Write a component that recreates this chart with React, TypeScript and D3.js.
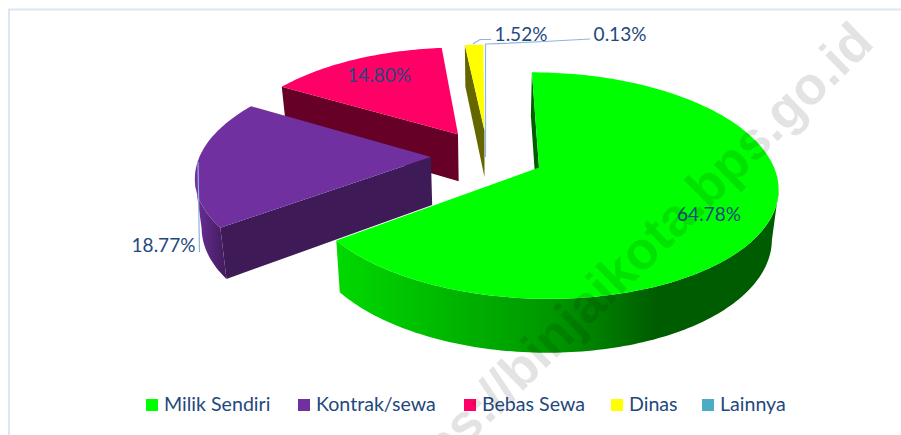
import React from "react";
import * as d3 from "d3";

const categories = ["Milik Sendiri", "Kontrak/sewa", "Bebas Sewa", "Dinas", "Lainnya"];
const values = [64.78, 18.77, 14.8, 1.52, 0.13];
const topColors = ["#00ff00", "#7030a0", "#ff0066", "#ffff00", "#4bacc6"];
const cutColors = ["#005c00", "#3e1a57", "#660026", "#666600", "#1e4450"];
const rimColors = [
  ["#00d800", "#009400", "#005c00", "#005c00"],
  ["#3e1a57", "#6a2e98", "#6a2e98", "#6a2e98"],
  ["#660026", "#660026", "#660026", "#660026"],
  ["#666600", "#666600", "#666600", "#666600"],
  ["#1e4450", "#1e4450", "#1e4450", "#1e4450"],
];
const labelTexts = ["64.78%", "18.77%", "14.80%", "1.52%", "0.13%"];

// Layout
const width = 901;
const height = 435;
const textColor = "#1f497d";
const fontFamily = "Lato, 'Open Sans', sans-serif";
const centerX = 487.5;
const centerY = 155.6;
const radiusX = 231;
const radiusY = 106.6;
const perspective = 0.157;
const explode = 0.245;
const depth = 48;
const legendX = [146, 298, 464, 611, 702];
const labelPos = [
  [709, 221],
  [163.5, 252],
  [379, 82],
  [521, 41],
  [620, 41],
];

type Pt = [number, number];

// disk coordinates (u to the right, v to the back) to screen
const projectTop = (u: number, v: number): Pt => {
  const p = 1 / (1 + perspective * v);
  return [centerX + radiusX * u * p, centerY - radiusY * v * p];
};
const projectBottom = (u: number, v: number): Pt => {
  const [x, y] = projectTop(u, v);
  return [centerX + (x - centerX) * 0.977, y + depth * (1 - 0.11 * v)];
};

const line = d3.line<Pt>();

// The slices of the pie, clockwise from the top
const slices = d3
  .pie<number>()
  .sort(null)
  .startAngle(0)
  .endAngle(2 * Math.PI)(values);

function sliceShapes(i: number) {
  const s = slices[i];
  const mid = (s.startAngle + s.endAngle) / 2;
  const ou = explode * Math.sin(mid);
  const ov = explode * Math.cos(mid);
  const steps = Math.max(2, Math.ceil((s.endAngle - s.startAngle) / 0.02));
  const angles = d3.range(steps + 1).map((k) => s.startAngle + ((s.endAngle - s.startAngle) * k) / steps);
  const rim = angles.map((a) => [ou + Math.sin(a), ov + Math.cos(a)] as Pt);
  const rimTop = rim.map(([u, v]) => projectTop(u, v));
  const rimBottom = rim.map(([u, v]) => projectBottom(u, v));
  const apexTop = projectTop(ou, ov);
  const apexBottom = projectBottom(ou, ov);

  const top = line([apexTop, ...rimTop])! + "Z";

  // A wall shows when its top edge runs leftwards on screen
  const walls: string[] = [];
  if (rimTop[0][0] < apexTop[0]) {
    walls.push(line([apexTop, rimTop[0], rimBottom[0], apexBottom])! + "Z");
  }
  const last = rimTop.length - 1;
  if (apexTop[0] < rimTop[last][0]) {
    walls.push(line([rimTop[last], apexTop, apexBottom, rimBottom[last]])! + "Z");
  }
  const visible = d3.range(last).filter((k) => rimTop[k + 1][0] < rimTop[k][0]);
  let outer = "";
  if (visible.length) {
    const from = visible[0];
    const to = visible[visible.length - 1] + 1;
    const upper = rimTop.slice(from, to + 1);
    const lower = rimBottom.slice(from, to + 1).reverse();
    outer = line([...upper, ...lower])! + "Z";
  }
  return { top, walls, outer };
}

// Far slices first so the near ones cover them
const drawOrder = [3, 2, 1, 0];

export default function App() {
  return (
    <svg
      width={width}
      height={height}
      viewBox={`0 0 ${width} ${height}`}
      style={{ position: "absolute", left: 0, top: 0, display: "block", background: "#fff" }}
    >
      <defs>
        {topColors.map((c, i) => (
          <linearGradient
            key={c}
            id={`rim${i}`}
            gradientUnits="userSpaceOnUse"
            x1={i === 0 ? 340 : 196}
            x2={i === 0 ? 780 : 228}
            y1={0}
            y2={0}
          >
            {i === 0 ? (
              <>
                <stop offset="0" stopColor={rimColors[0][0]} />
                <stop offset="0.5" stopColor={rimColors[0][1]} />
                <stop offset="0.72" stopColor={rimColors[0][2]} />
                <stop offset="1" stopColor={rimColors[0][3]} />
              </>
            ) : (
              <>
                <stop offset="0" stopColor={rimColors[i][1]} />
                <stop offset="1" stopColor={rimColors[i][0]} />
              </>
            )}
          </linearGradient>
        ))}
      </defs>

      {/* Chart frame */}
      <path d={`M${width},9.5H9V${height}`} fill="none" stroke="#dce6f4" strokeWidth={2} />

      {/* Pie */}
      {drawOrder.map((i) => {
        const { top, walls, outer } = sliceShapes(i);
        return (
          <g key={categories[i]}>
            {walls.map((d, k) => (
              <path key={k} d={d} fill={cutColors[i]} />
            ))}
            {outer && <path d={outer} fill={`url(#rim${i})`} />}
            <path d={top} fill={topColors[i]} />
          </g>
        );
      })}

      {/* Leader lines */}
      <g fill="none" stroke="#8fb4e0" strokeWidth={1.2}>
        <path d="M198,162L199.5,252" />
        <path d="M473,44L480,39.5L491,39.5" />
        <path d="M485.5,157L485.5,44Q540,42 590,39" />
      </g>

      {/* Data labels */}
      {labelTexts.map((t, i) => (
        <text
          key={t}
          x={labelPos[i][0]}
          y={labelPos[i][1]}
          textAnchor="middle"
          fontFamily={fontFamily}
          fontSize={19}
          fill={textColor}
        >
          {t}
        </text>
      ))}

      {/* Legend */}
      {categories.map((c, i) => (
        <g key={c}>
          <rect x={legendX[i]} y={399} width={12} height={12} fill={topColors[i]} />
          <text x={legendX[i] + 18} y={411} fontFamily={fontFamily} fontSize={19.6} fill={textColor}>
            {c}
          </text>
        </g>
      ))}

      {/* Watermark */}
      <text
        transform="translate(876,45) rotate(-44.4)"
        textAnchor="end"
        fontFamily="'Liberation Sans', Arial, sans-serif"
        fontWeight="bold"
        fontSize={53}
        fill="#000"
        fillOpacity={0.11}
      >
        https://binjaikota.bps.go.id
      </text>
    </svg>
  );
}
